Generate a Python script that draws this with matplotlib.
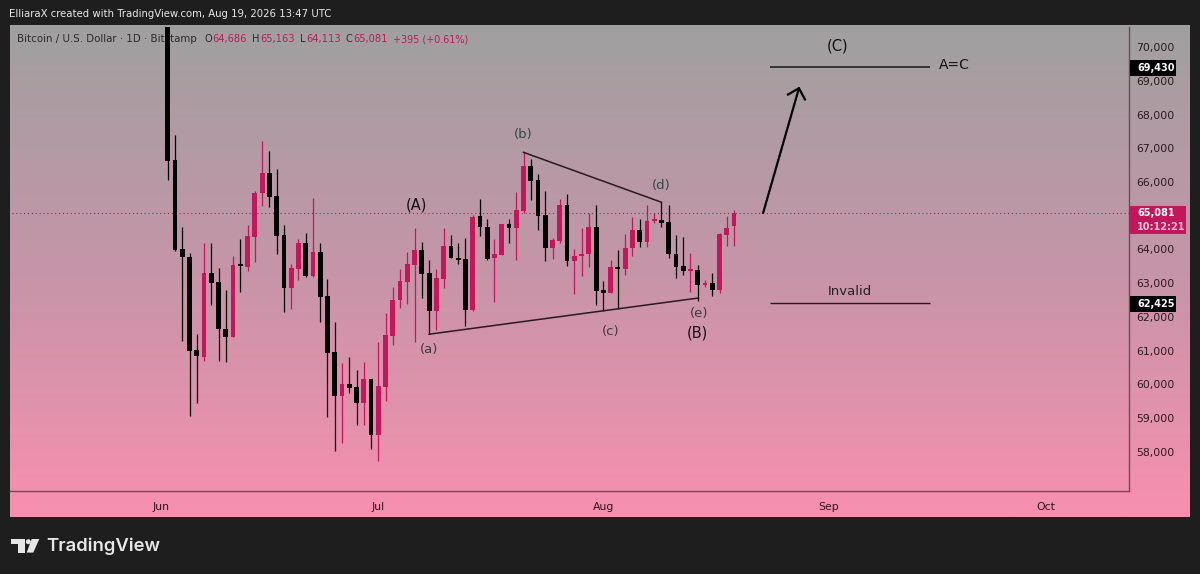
import numpy as np
import matplotlib
matplotlib.use("Agg")
import matplotlib.pyplot as plt
from matplotlib.colors import LinearSegmentedColormap
from matplotlib.patches import Polygon, Ellipse, Rectangle

# daily candles, first one is Jun 2
opens = [71500, 66650, 64000, 63790, 61020, 60800, 63290, 63040, 61650, 61420,
         63540, 63490, 64380, 65660, 66260, 65600, 64430, 62870, 63430, 64200,
         63200, 63930, 62620, 60960, 59670, 60000, 59930, 59440, 60150, 58500,
         59920, 61450, 62500, 63050, 63540, 63980, 63290, 62190, 63140, 64100,
         63760, 63710, 62210, 64980, 64680, 63740, 63840, 64760, 64640, 65150,
         66470, 66060, 65010, 64050, 64260, 65320, 63670, 63800, 63860, 64680,
         62790, 62720, 63480, 63410, 64030, 64570, 64210, 64830, 64870, 64820,
         63870, 63510, 63360, 63390, 62940, 63010, 62800, 64440, 64686]
highs = [72000, 67390, 64660, 63890, 61500, 64180, 64180, 63460, 62800, 63810,
         64310, 64720, 65720, 67220, 66930, 66380, 64730, 63570, 64300, 64480,
         65540, 64180, 63130, 61850, 60630, 60820, 60430, 60680, 60150, 61270,
         62130, 62880, 63430, 63940, 64630, 64230, 63690, 63420, 64630, 64420,
         64200, 64330, 65020, 65490, 64900, 64310, 64770, 64900, 65700, 66880,
         66670, 66230, 65730, 64350, 65490, 65640, 64000, 64630, 65070, 65320,
         63070, 63690, 63980, 64450, 64950, 64900, 65320, 65070, 65400, 65310,
         64420, 64360, 63910, 63540, 63100, 63290, 64500, 64990, 65163]
lows = [66060, 63970, 61300, 59080, 59460, 60710, 62360, 60710, 60660, 61420,
        62750, 63370, 63630, 65290, 65270, 63860, 62160, 62240, 63100, 63180,
        63180, 61850, 59030, 58030, 58260, 59760, 58800, 58800, 58090, 57730,
        59520, 61170, 62260, 62390, 61250, 62570, 61490, 61620, 62870, 63740,
        63570, 61740, 62190, 64400, 63690, 62450, 63840, 64200, 63690, 65070,
        65470, 64570, 63660, 63720, 64200, 63520, 62670, 63200, 63490, 62360,
        62190, 62700, 62240, 63250, 63810, 64080, 64080, 64780, 64660, 63740,
        63170, 63230, 62750, 62470, 62880, 62630, 62700, 64100, 64113]
closes = [66630, 63990, 63770, 61000, 60830, 63290, 63020, 61640, 61420, 63540,
          63520, 64400, 65680, 66260, 65570, 64410, 62850, 63460, 64200, 63200,
          63930, 62600, 60940, 59670, 60020, 59910, 59440, 60150, 58500, 59960,
          61470, 62500, 63070, 63570, 63980, 63270, 62190, 63150, 64100, 63740,
          63700, 62210, 64950, 64660, 63720, 63870, 64770, 64640, 65170, 66470,
          66020, 64990, 64050, 64280, 65320, 63670, 63810, 63870, 64680, 62770,
          62720, 63480, 63410, 64030, 64580, 64210, 64850, 64870, 64800, 63860,
          63490, 63350, 63410, 62940, 63020, 62800, 64460, 64650, 65081]

price_ticks = [70000, 69000, 68000, 67000, 66000, 64000, 63000, 62000, 61000, 60000, 59000, 58000]
month_days = [0, 30, 61, 92, 122]
month_labels = ["Jun", "Jul", "Aug", "Sep", "Oct"]

PINK = "#c2185b"
W, H = 1200, 574


def axes_rect(x0, y0, x1, y1):
    return [x0 / W, 1 - y1 / H, (x1 - x0) / W, (y1 - y0) / H]


def px(x, y):
    return x / W, 1 - y / H


fig = plt.figure(figsize=(12, 5.74), dpi=100, facecolor="#1e1e1e")

# gradient panel behind everything
bg = fig.add_axes(axes_rect(10, 25, 1190, 517), zorder=0)
cmap = LinearSegmentedColormap.from_list("tv", ["#a0a0a0", "#c695a8", "#f88fb0"])
bg.imshow(np.linspace(0, 1, 256).reshape(-1, 1), aspect="auto", cmap=cmap)
bg.axis("off")

ax = fig.add_axes(axes_rect(10, 27, 1129, 491), zorder=1)
ax.patch.set_alpha(0)
ax.set_xlim(-20.73, 133.4)
ax.set_ylim(56844, 70593)

days = np.arange(1, len(opens) + 1)
o = np.array(opens)
h = np.array(highs)
l = np.array(lows)
c = np.array(closes)
colors = [PINK if b >= a else "black" for a, b in zip(o, c)]

ax.hlines(closes[-1], -21, 134, color=PINK, lw=0.8, linestyles=(0, (1, 2.5)), zorder=1)
ax.vlines(days, l, h, color=colors, lw=0.9, zorder=3)
ax.bar(days, np.maximum(np.abs(c - o), 60), bottom=np.minimum(o, c), width=0.66, color=colors, zorder=3)

# wave count drawings
ax.plot([37, 74], [61490, 62560], color="#2a1a20", lw=1.1, zorder=4)
ax.plot([50, 69], [66880, 65400], color="#2a1a20", lw=1.1, zorder=4)
ax.hlines(69395, 84, 106, color="#222222", lw=1.2, zorder=4)
ax.hlines(62425, 84, 106, color="#222222", lw=1.0, zorder=4)
ax.annotate("", xy=(88.0, 68824), xytext=(83.0, 65081),
            arrowprops=dict(arrowstyle="->,head_length=0.67,head_width=0.65", color="black", lw=1.6, shrinkA=0, shrinkB=0))

ax.text(37, 61040, "(a)", ha="center", va="center", fontsize=9.5, color="#3b3b3b")
ax.text(50, 67400, "(b)", ha="center", va="center", fontsize=9.5, color="#2f4a48")
ax.text(62, 61580, "(c)", ha="center", va="center", fontsize=9.5, color="#3b3b3b")
ax.text(69, 65890, "(d)", ha="center", va="center", fontsize=9.5, color="#2f4a48")
ax.text(74.2, 62100, "(e)", ha="center", va="center", fontsize=9.5, color="#3b3b3b")
ax.text(35.2, 65320, "(A)", ha="center", va="center", fontsize=10.5, color="#111111")
ax.text(74, 61520, "(B)", ha="center", va="center", fontsize=10.5, color="#111111")
ax.text(93.2, 70020, "(C)", ha="center", va="center", fontsize=10.5, color="#111111")
ax.text(109.3, 69480, "A=C", ha="center", va="center", fontsize=10, color="#111111")
ax.text(95, 62770, "Invalid", ha="center", va="center", fontsize=9.5, color="#222222")

ax.set_yticks(price_ticks)
ax.set_yticklabels([f"{v:,}" for v in price_ticks], fontsize=7.8, color="#2a1a20")
ax.yaxis.tick_right()
ax.tick_params(axis="y", length=0, pad=5)
ax.set_xticks(month_days)
ax.set_xticklabels(month_labels, fontsize=7.8, color="#33101f")
ax.tick_params(axis="x", length=0, pad=8)
for name in ["top", "left"]:
    ax.spines[name].set_visible(False)
for name in ["right", "bottom"]:
    ax.spines[name].set_color("#6a4c58")
    ax.spines[name].set_linewidth(1.0)

# figure level text and tags
fig.text(*px(9, 14), "ElliaraX created with TradingView.com, Aug 19, 2026 13:47 UTC",
         color="#e8e8e8", fontsize=7.25, va="center", ha="left")

legend_items = [
    (17, "Bitcoin / U.S. Dollar · 1D · Bitstamp", "#2b2b2b", 7.4),
    (204, "O", "#2b2b2b", 7.1), (212, "64,686", PINK, 7.1),
    (252, "H", "#2b2b2b", 7.1), (260, "65,163", PINK, 7.1),
    (300, "L", "#2b2b2b", 7.1), (306, "64,113", PINK, 7.1),
    (346, "C", "#2b2b2b", 7.1), (353, "65,081", PINK, 7.1),
    (393, "+395 (+0.61%)", PINK, 6.9),
]
for x, s, col, size in legend_items:
    # behind the candles, like the reference
    bg.text(x / W, 1 - 39 / H, s, color=col, fontsize=size, va="center", ha="left",
            transform=fig.transFigure)

tags = [(1130, 60, 1176, 75.5, "black", ["69,430"], [67.7]),
        (1129, 206, 1186, 234.5, PINK, ["65,081", "10:12:21"], [213, 227]),
        (1130, 296, 1176, 312, "black", ["62,425"], [304])]
for x0, y0, x1, y1, col, lines, ys in tags:
    fig.add_artist(Rectangle(px(x0, y1), (x1 - x0) / W, (y1 - y0) / H, transform=fig.transFigure,
                             facecolor=col, edgecolor="none", zorder=5))
    for s, yy in zip(lines, ys):
        tag_col = "white" if s != "10:12:21" else "#f6c6d8"
        fig.text(*px(1137, yy), s, color=tag_col, fontsize=7.0, fontweight="bold", va="center", ha="left", zorder=6)

# TradingView logo
logo_col = "#e6e6e6"
for pts in [[(11, 539), (25, 539), (25, 552.6), (17.5, 552.6), (17.5, 544), (11, 544)],
            [(31.7, 539), (39.3, 539), (33.3, 552.6), (26.7, 552.6)]]:
    fig.add_artist(Polygon([px(*p) for p in pts], closed=True, transform=fig.transFigure,
                           facecolor=logo_col, edgecolor="none"))
fig.add_artist(Ellipse(px(28.3, 541.7), 5 / W, 5 / H, transform=fig.transFigure, facecolor=logo_col, edgecolor="none"))
fig.text(*px(46, 546), "TradingView", color=logo_col, fontsize=13.3, fontweight="semibold",
         family="Inter", va="center", ha="left")

fig.savefig("out.png", dpi=100, facecolor=fig.get_facecolor())
